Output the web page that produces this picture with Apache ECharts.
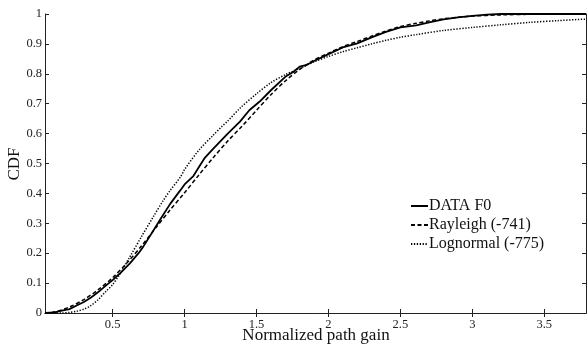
<!DOCTYPE html>
<html>
<head>
<meta charset="utf-8">
<script src="https://cdn.jsdelivr.net/npm/echarts@6/dist/echarts.min.js"></script>
<style>html,body{margin:0;padding:0;background:#fff}#c{width:587px;height:347px}</style>
</head>
<body>
<div id="c"></div>
<script>
// ---- data ----
var seriesNames = ['DATA F0', 'Rayleigh (-741)', 'Lognormal (-775)'];
var xTicks = [0.5, 1, 1.5, 2, 2.5, 3, 3.5];
var xTitle = 'Normalized path gain';
var yTitle = 'CDF';

var dataX = [0.03,0.1,0.13,0.2,0.25,0.3,0.35,0.4,0.459,0.5,0.55,0.62,0.68,0.713,0.76,0.834,0.9,0.97,1.0,1.061,1.1,1.142,1.2,1.25,1.3,1.385,1.45,1.524,1.6,1.7,1.755,1.8,1.85,1.9,2.0,2.1,2.2,2.3,2.4,2.5,2.61,2.7,2.8,2.9,3.0,3.1,3.2,3.79];
var dataY = [0,0.002,0.006,0.013,0.025,0.037,0.052,0.07,0.094,0.11,0.132,0.166,0.2,0.222,0.258,0.315,0.365,0.41,0.43,0.458,0.488,0.52,0.55,0.575,0.6,0.64,0.678,0.708,0.745,0.79,0.806,0.824,0.83,0.843,0.866,0.888,0.902,0.922,0.94,0.955,0.962,0.972,0.982,0.989,0.994,0.998,1.0,1.0];

var rayX = [0.03,0.1,0.2,0.3,0.4,0.5,0.6,0.7,0.8,0.9,1.0,1.1,1.2,1.3,1.4,1.5,1.6,1.7,1.8,1.9,2.0,2.1,2.2,2.3,2.4,2.5,2.6,2.7,2.8,2.9,3.0,3.2,3.4,3.79];
var rayY = [0,0.004,0.02,0.045,0.078,0.118,0.168,0.224,0.285,0.345,0.402,0.462,0.52,0.575,0.625,0.678,0.73,0.776,0.815,0.846,0.869,0.891,0.908,0.926,0.943,0.958,0.968,0.977,0.984,0.989,0.993,0.997,0.999,1.0];

var logX = [0.03,0.15,0.2,0.25,0.3,0.343,0.4,0.459,0.5,0.55,0.62,0.7,0.783,0.85,0.9,0.973,1.0,1.1,1.2,1.258,1.3,1.385,1.5,1.6,1.7,1.8,1.9,2.0,2.1,2.2,2.3,2.4,2.5,2.61,2.8,3.0,3.2,3.4,3.6,3.79];
var logY = [0,0,0.002,0.006,0.013,0.023,0.045,0.075,0.095,0.13,0.188,0.255,0.322,0.375,0.41,0.456,0.48,0.545,0.595,0.623,0.642,0.685,0.733,0.77,0.797,0.818,0.84,0.858,0.874,0.887,0.9,0.912,0.922,0.931,0.945,0.955,0.964,0.972,0.978,0.983];

function pairs(xs, ys){ return xs.map(function(x,i){ return [x, ys[i]]; }); }

var FONT = 'Liberation Serif';
var chart = echarts.init(document.getElementById('c'), null, {renderer:'canvas'});
var axisLine = {show:true, lineStyle:{color:'#222', width:1}};
chart.setOption({
  backgroundColor:'#fff',
  animation:false,
  grid:{left:45, right:1, top:14, bottom:34, containLabel:false, outerBoundsMode:'none'},
  legend:{
    orient:'vertical', left:405, top:193, itemWidth:17, itemHeight:10, itemGap:3,
    itemStyle:{opacity:0},
    textStyle:{fontFamily:FONT, fontSize:16, color:'#111', padding:[0,0,0,-4]},
    data:seriesNames
  },
  graphic:[{
    type:'text', x:316, y:336,
    style:{text:xTitle, fontFamily:FONT, fontSize:17, fill:'#111', align:'center', verticalAlign:'middle'}
  },{
    type:'text', x:15, y:164, rotation:Math.PI/2,
    style:{text:yTitle, fontFamily:FONT, fontSize:17, fill:'#111', align:'center', verticalAlign:'middle'}
  }],
  xAxis:[{
    type:'value', min:0.03, max:3.79, position:'bottom',
    axisLine:axisLine,
    axisTick:{show:true, inside:true, length:4, customValues:xTicks, lineStyle:{color:'#222'}},
    axisLabel:{show:true, customValues:xTicks, fontFamily:FONT, fontSize:12.5, color:'#222', margin:5},
    splitLine:{show:false}
  },{
    type:'value', min:0.03, max:3.79, position:'top',
    axisLine:axisLine,
    axisTick:{show:true, inside:true, length:4, customValues:xTicks, lineStyle:{color:'#222'}},
    axisLabel:{show:false}, splitLine:{show:false}
  }],
  yAxis:[{
    type:'value', min:0, max:1, interval:0.1, position:'left',
    axisLine:axisLine,
    axisTick:{show:true, inside:true, length:4, lineStyle:{color:'#222'}},
    axisLabel:{fontFamily:FONT, fontSize:12.5, color:'#222', margin:3,
      formatter:function(v){ return String(Math.round(v*10)/10); }},
    splitLine:{show:false}
  },{
    type:'value', min:0, max:1, interval:0.1, position:'right',
    axisLine:axisLine,
    axisTick:{show:true, inside:true, length:4, lineStyle:{color:'#222'}},
    axisLabel:{show:false}, splitLine:{show:false}
  }],
  series:[{
    name:seriesNames[0], type:'line', data:pairs(dataX, dataY), symbol:'none', smooth:false,
    lineStyle:{color:'#000', width:1.8, type:'solid'}, itemStyle:{color:'#000'}
  },{
    name:seriesNames[1], type:'line', data:pairs(rayX, rayY), symbol:'none', smooth:0.3,
    lineStyle:{color:'#000', width:1.5, type:[4,2.5]}, itemStyle:{color:'#000'}
  },{
    name:seriesNames[2], type:'line', data:pairs(logX, logY), symbol:'none', smooth:0.3,
    lineStyle:{color:'#000', width:1.5, type:[1.3,1.6]}, itemStyle:{color:'#000'}
  }]
});
</script>
</body>
</html>
